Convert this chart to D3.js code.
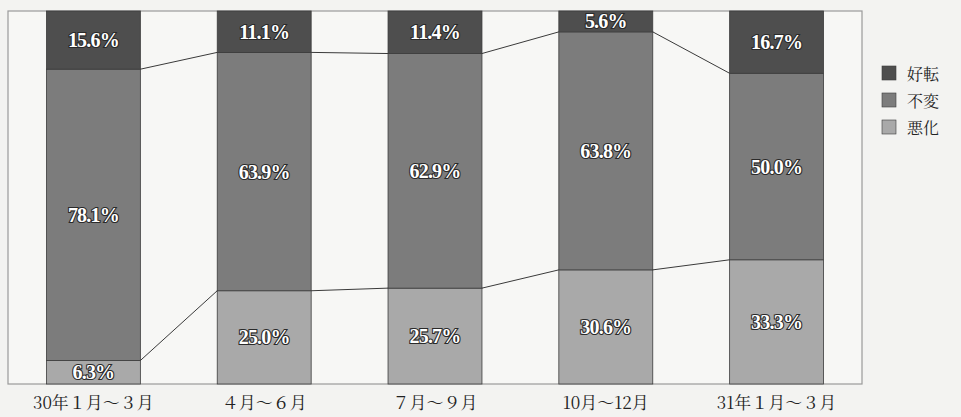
<!DOCTYPE html>
<html>
<head>
<meta charset="utf-8">
<script src="https://cdn.jsdelivr.net/npm/d3@7/dist/d3.min.js"></script>
<style>
  html, body { margin: 0; padding: 0; background: #f3f3f1; }
  svg { display: block; }
  .cat { font-family: "Noto Serif CJK JP", "Liberation Serif", "Noto Sans CJK JP", serif; font-size: 17px; fill: #222; }
  .val { font-family: "Liberation Serif", "DejaVu Serif", serif; font-size: 20px; font-weight: bold; fill: #fff; stroke: #2a2a2a; stroke-width: 2.2px; paint-order: stroke; letter-spacing: -0.8px; }
  .leg { font-family: "Noto Serif CJK JP", "Noto Sans CJK JP", serif; font-size: 16px; fill: #222; }
</style>
</head>
<body>
<svg id="chart" width="961" height="417"></svg>
<script>
// Quarterly outlook shares (%)
const categories = ["30年１月～３月", "４月～６月", "７月～９月", "10月～12月", "31年１月～３月"];
const seriesNames = ["好転", "不変", "悪化"];
const improved = [15.6, 11.1, 11.4, 5.6, 16.7];
const unchanged = [78.1, 63.9, 62.9, 63.8, 50.0];
const worsened = [6.3, 25.0, 25.7, 30.6, 33.3];
const colors = ["#4e4e4e", "#7c7c7c", "#a9a9a9"];

const svg = d3.select("#chart");
const plot = { left: 8, right: 862, top: 11, bottom: 384 };

const rows = categories.map((c, i) => ({
  cat: c, "好転": improved[i], "不変": unchanged[i], "悪化": worsened[i]
}));

const x = d3.scaleBand().domain(categories)
  .range([plot.left, plot.right]).paddingInner(0.45).paddingOuter(0.225);
const y = d3.scaleLinear().domain([0, 100]).range([plot.bottom, plot.top]);
const color = d3.scaleOrdinal().domain(seriesNames).range(colors);

// stack bottom-up: 悪化, 不変, 好転
const stack = d3.stack().keys(["悪化", "不変", "好転"]);
const layers = stack(rows);

// plot frame
svg.append("rect")
  .attr("x", plot.left).attr("y", plot.top)
  .attr("width", plot.right - plot.left).attr("height", plot.bottom - plot.top)
  .attr("fill", "#f7f7f5").attr("stroke", "#9a9a9a").attr("stroke-width", 1.2);

// bars
const g = svg.append("g");
layers.forEach(layer => {
  g.selectAll(null).data(layer).enter().append("rect")
    .attr("x", d => x(d.data.cat))
    .attr("width", x.bandwidth())
    .attr("y", d => y(d[1]))
    .attr("height", d => y(d[0]) - y(d[1]))
    .attr("fill", color(layer.key))
    .attr("stroke", "#3c3c3c").attr("stroke-width", 0.8);
});

// connector lines between adjacent bars at each segment boundary
const line = d3.line().x(d => d[0]).y(d => d[1]);
const boundaries = [layers[0], layers[1]];
boundaries.forEach(layer => {
  for (let i = 0; i < layer.length - 1; i++) {
    const a = layer[i], b = layer[i + 1];
    svg.append("path")
      .attr("d", line([
        [x(a.data.cat) + x.bandwidth(), y(a[1])],
        [x(b.data.cat), y(b[1])]
      ]))
      .attr("fill", "none").attr("stroke", "#3a3a3a").attr("stroke-width", 1);
  }
});

// value labels centred in segments
layers.forEach(layer => {
  svg.selectAll(null).data(layer).enter().append("text")
    .attr("class", "val")
    .attr("x", d => x(d.data.cat) + x.bandwidth() / 2)
    .attr("y", d => (y(d[0]) + y(d[1])) / 2)
    .attr("text-anchor", "middle")
    .attr("dominant-baseline", "central")
    .text(d => (d[1] - d[0]).toFixed(1) + "%");
});

// category axis
const xAxis = d3.axisBottom(x).tickSize(0).tickPadding(13);
const ax = svg.append("g").attr("transform", `translate(0,${plot.bottom})`).call(xAxis);
ax.select(".domain").remove();
ax.selectAll("text").attr("class", "cat").attr("font-family", null).attr("font-size", null).attr("fill", null);

// legend
const legend = svg.append("g").attr("transform", "translate(882,66)");
seriesNames.forEach((name, i) => {
  const row = legend.append("g").attr("transform", `translate(0,${i * 27})`);
  row.append("rect").attr("width", 14).attr("height", 14)
    .attr("fill", color(name)).attr("stroke", "#3c3c3c").attr("stroke-width", 0.6);
  row.append("text").attr("class", "leg").attr("x", 25).attr("y", 7.5)
    .attr("dominant-baseline", "central").text(name);
});
</script>
</body>
</html>
